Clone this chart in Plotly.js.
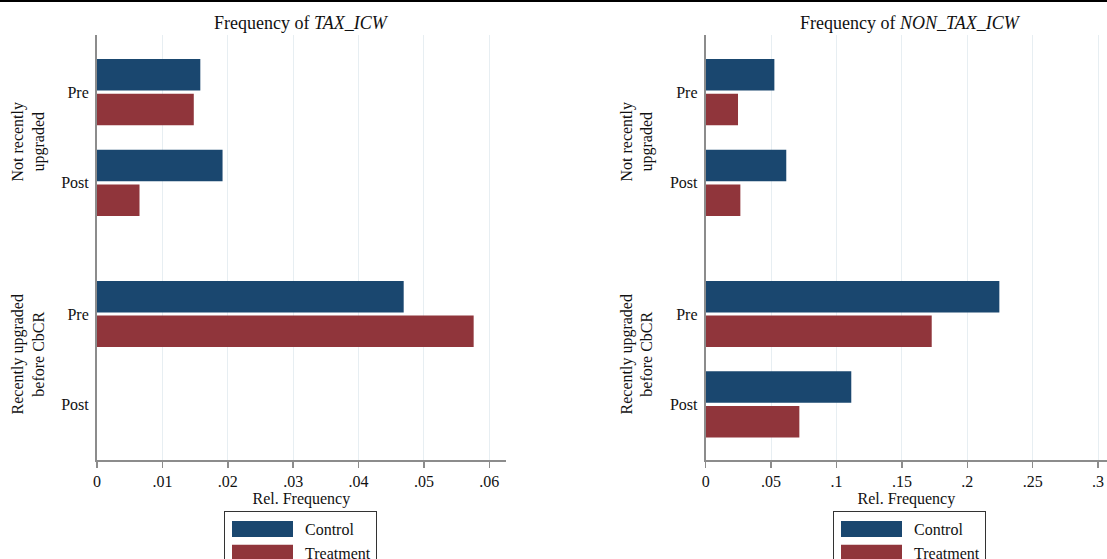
<!DOCTYPE html>
<html>
<head>
<meta charset="utf-8">
<script src="https://cdn.plot.ly/plotly-3.0.1.min.js"></script>
<style>html,body{margin:0;padding:0;background:#fff;}#chart{width:1107px;height:559px;}</style>
</head>
<body>
<div id="chart"></div>
<script>
// ---- data ----
var periods = ['Pre', 'Post'];
var groupLabels = ['Not recently<br>upgraded', 'Recently upgraded<br>before CbCR'];
var seriesNames = ['Control', 'Treatment'];
var panelTitles = ['Frequency of <i>TAX_ICW</i>', 'Frequency of <i>NON_TAX_ICW</i>'];
var xTitle = 'Rel. Frequency';

// TAX_ICW
var taxControlNotRecent = [0.0158, 0.0192];
var taxTreatNotRecent   = [0.0148, 0.0065];
var taxControlRecent    = [0.0469, 0];
var taxTreatRecent      = [0.0576, 0];
// NON_TAX_ICW
var nonControlNotRecent = [0.0525, 0.0616];
var nonTreatNotRecent   = [0.0247, 0.0265];
var nonControlRecent    = [0.2245, 0.1113];
var nonTreatRecent      = [0.1728, 0.0716];

var taxTicks = [0, 0.01, 0.02, 0.03, 0.04, 0.05, 0.06];
var taxTickText = ['0', '.01', '.02', '.03', '.04', '.05', '.06'];
var nonTicks = [0, 0.05, 0.1, 0.15, 0.2, 0.25, 0.3];
var nonTickText = ['0', '.05', '.1', '.15', '.2', '.25', '.3'];

// ---- style ----
var colors = ['#1a476f', '#90353b'];
var W = 1107, H = 559;
var FONT = 'Liberation Serif, Times New Roman, serif';
function px(x) { return x / W; }
function py(y) { return (H - y) / H; }

function bar(vals, i, xa, ya, legendId, show) {
  return {
    type: 'bar', orientation: 'h', x: vals, y: periods,
    name: seriesNames[i], xaxis: xa, yaxis: ya,
    marker: {color: colors[i], line: {width: 0}},
    legend: legendId, showlegend: show, legendgroup: legendId + seriesNames[i],
    hoverinfo: 'x+y+name'
  };
}

var traces = [
  bar(taxControlNotRecent, 0, 'x', 'y2', 'legend', true),
  bar(taxTreatNotRecent,   1, 'x', 'y2', 'legend', true),
  bar(taxControlRecent,    0, 'x', 'y',  'legend', false),
  bar(taxTreatRecent,      1, 'x', 'y',  'legend', false),
  bar(nonControlNotRecent, 0, 'x2', 'y4', 'legend2', true),
  bar(nonTreatNotRecent,   1, 'x2', 'y4', 'legend2', true),
  bar(nonControlRecent,    0, 'x2', 'y3', 'legend2', false),
  bar(nonTreatRecent,      1, 'x2', 'y3', 'legend2', false)
];

var axisLine = '#8c8c8c', gridCol = '#e7eef2';
function xAxis(domain, range, tv, tt, anchor) {
  return {
    domain: domain, range: range, anchor: anchor, tickvals: tv, ticktext: tt,
    showgrid: true, gridcolor: gridCol, gridwidth: 1, zeroline: false,
    showline: true, linecolor: axisLine, linewidth: 2,
    ticks: 'outside', ticklen: 6, tickwidth: 1.5, tickcolor: axisLine,
    tickfont: {family: FONT, size: 16, color: '#111'},
    title: {text: xTitle, font: {family: FONT, size: 16, color: '#111'}, standoff: 4},
    fixedrange: true
  };
}
function yAxis(domain, range, anchor, title) {
  return {
    domain: domain, range: range, anchor: anchor, type: 'category',
    categoryorder: 'array', categoryarray: periods,
    showgrid: false, zeroline: false, showline: true, linecolor: axisLine, linewidth: 2,
    ticks: '', ticklabelstandoff: 3,
    tickfont: {family: FONT, size: 16, color: '#111'},
    title: {text: title, font: {family: FONT, size: 16, color: '#111'}, standoff: 13},
    fixedrange: true
  };
}

var topDom = [py(248.5), py(35)];
var botDom = [py(460), py(248.5)];
var topRange = [1.724, -0.630];
var botRange = [1.615, -0.724];

var legendBase = {xanchor: 'left', yanchor: 'top', orientation: 'v',
  bordercolor: '#333', borderwidth: 1, bgcolor: '#fff', itemwidth: 70,
  font: {family: FONT, size: 16, color: '#111'}, traceorder: 'normal'};

var layout = {
  width: W, height: H,
  margin: {l: 0, r: 0, t: 0, b: 0, autoexpand: false},
  paper_bgcolor: '#fff', plot_bgcolor: '#fff',
  barmode: 'group', bargap: 0.234, bargroupgap: 0.09,
  xaxis: xAxis([px(97), px(505.7)], [0, 0.0625], taxTicks, taxTickText, 'y'),
  yaxis: yAxis(botDom, botRange, 'x', groupLabels[1]),
  yaxis2: yAxis(topDom, topRange, 'x', groupLabels[0]),
  xaxis2: xAxis([px(705.7), 1], [0, (W - 705.7) / 1308], nonTicks, nonTickText, 'y3'),
  yaxis3: yAxis(botDom, botRange, 'x2', groupLabels[1]),
  yaxis4: yAxis(topDom, topRange, 'x2', groupLabels[0]),
  legend: Object.assign({x: px(224), y: py(511)}, legendBase),
  legend2: Object.assign({x: px(833), y: py(511)}, legendBase),
  annotations: [
    {text: panelTitles[0], xref: 'paper', yref: 'paper', x: px(301.3), y: py(23),
     xanchor: 'center', yanchor: 'middle', showarrow: false,
     font: {family: FONT, size: 18, color: '#111'}},
    {text: panelTitles[1], xref: 'paper', yref: 'paper', x: px(910), y: py(23),
     xanchor: 'center', yanchor: 'middle', showarrow: false,
     font: {family: FONT, size: 18, color: '#111'}}
  ],
  shapes: [
    {type: 'line', xref: 'paper', yref: 'paper', x0: 0, x1: 1, y0: py(1), y1: py(1),
     line: {color: '#000', width: 2}}
  ]
};

Plotly.newPlot('chart', traces, layout, {displayModeBar: false, staticPlot: true}).then(function () {
  document.querySelectorAll('g.legendpoints path').forEach(function (p) {
    p.setAttribute('d', 'M28,8H-33V-8H28Z');
  });
});
</script>
</body>
</html>
